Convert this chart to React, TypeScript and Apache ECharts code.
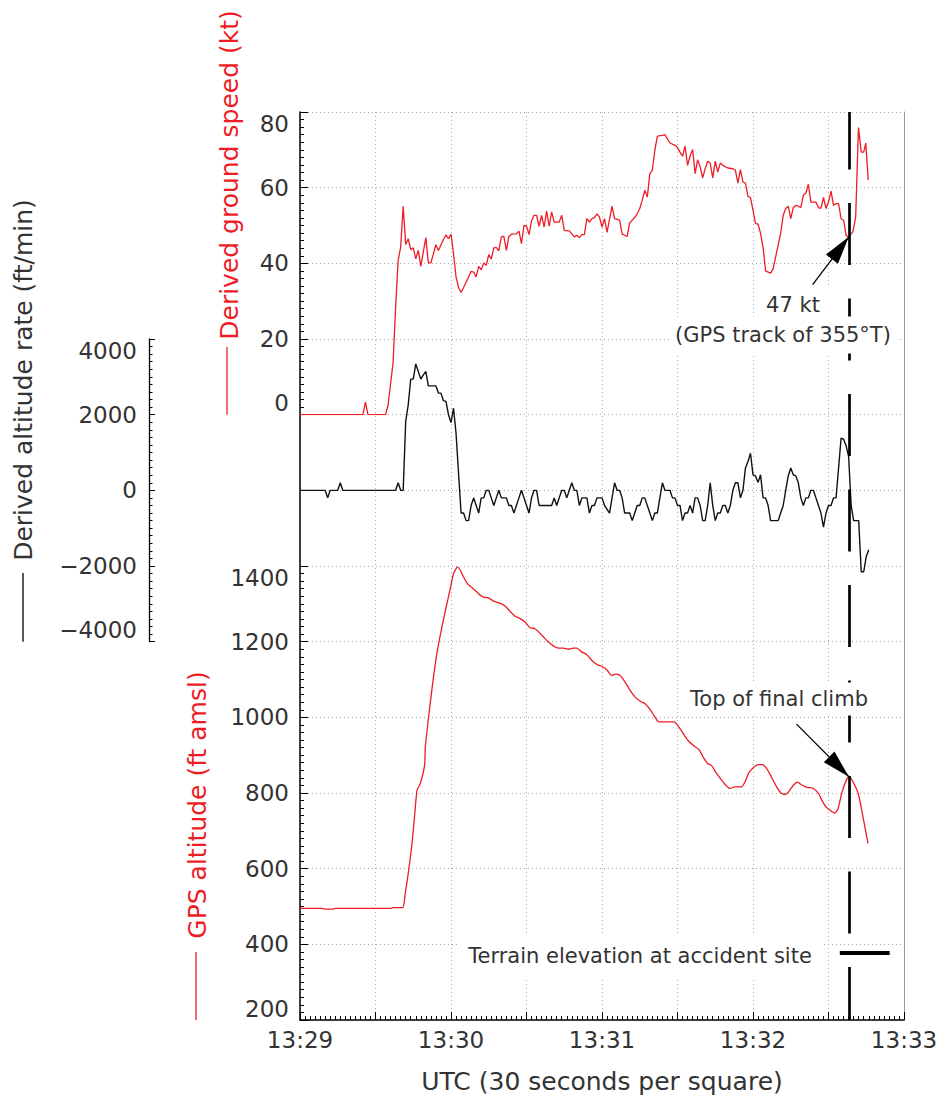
import React, { useEffect, useRef } from 'react';
import * as echarts from 'echarts';

// ---- data (time in seconds after 13:29:00 UTC) ----
const timeLabels = ['13:29', '13:30', '13:31', '13:32', '13:33'];

const groundSpeed: [number, number][] = [
  [0, 0], [25, 0], [26, 3.3], [27, 0], [34, 0], [35, 2.5], [37, 13.9], [38, 28.5], [39, 40.8], [40, 44.3],
  [41, 55.1], [42, 45.0], [43, 46.5], [44, 43.6], [45, 44.1], [46, 41.2], [47, 43.4], [48, 39.2], [49, 43.0],
  [50, 46.8], [51, 40.1], [52, 40.1], [54, 44.9], [55, 43.4], [57, 46.3], [58, 47.5], [59, 46.5], [60, 47.7],
  [61, 42.6], [62, 36.4], [63, 33.6], [64, 32.3], [65, 33.6], [67, 36.4], [68, 37.9], [69, 37.7], [70, 36.4],
  [71, 39.2], [72, 38.3], [73, 40.1], [74, 39.5], [75, 42.3], [76, 41.1], [77, 44.1], [78, 44.2], [79, 43.3],
  [80, 47.0], [81, 47.1], [82, 43.4], [83, 47.1], [84, 47.7], [86, 47.8], [87, 48.5], [88, 45.2], [89, 50.0],
  [90, 49.9], [91, 47.6], [92, 51.2], [93, 52.7], [94, 52.7], [95, 49.8], [96, 52.7], [97, 49.6], [98, 53.8],
  [99, 49.8], [100, 53.6], [101, 50.9], [103, 50.9], [104, 52.7], [105, 48.7], [107, 48.6], [109, 47.0],
  [110, 47.4], [111, 46.8], [112, 47.6], [113, 47.6], [114, 51.8], [115, 50.9], [116, 51.8], [117, 52.1],
  [118, 53.1], [119, 52.2], [120, 49.6], [121, 51.8], [122, 48.2], [124, 55.1], [125, 51.8], [127, 51.4],
  [128, 47.7], [130, 47.1], [131, 50.7], [133, 52.1], [134, 53.1], [135, 54.5], [136, 56.7], [137, 59.3],
  [138, 57.5], [139, 63.7], [140, 64.6], [141, 69.9], [142, 73.6], [144, 73.8], [145, 74.0], [147, 71.8],
  [149, 71.2], [150, 70.6], [151, 69.4], [152, 68.3], [153, 71.0], [154, 65.9], [155, 68.3], [156, 70.1],
  [157, 63.7], [158, 67.4], [159, 65.5], [160, 62.6], [161, 65.0], [162, 67.0], [163, 66.5], [164, 62.6],
  [165, 67.0], [166, 64.1], [167, 66.5], [168, 65.9], [170, 65.2], [172, 65.0], [173, 64.6], [174, 61.2],
  [175, 64.8], [176, 61.5], [177, 61.2], [178, 57.7], [179, 57.4], [180, 54.0], [181, 50.5], [182, 50.4],
  [183, 47.9], [184, 44.3], [185, 38.0], [186, 37.7], [187, 37.4], [188, 38.6], [189, 41.7], [190, 44.8],
  [191, 47.9], [192, 52.7], [193, 54.5], [194, 55.1], [195, 51.8], [196, 54.7], [197, 55.3], [198, 55.1],
  [199, 54.7], [200, 58.0], [201, 58.6], [202, 60.9], [203, 56.2], [205, 56.2], [206, 54.7], [207, 54.5],
  [208, 57.4], [209, 54.5], [210, 56.2], [211, 59.1], [212, 55.3], [213, 55.8], [214, 55.8], [215, 51.8],
  [216, 51.4], [217, 47.4], [218, 47.0], [219.7, 48.3], [220.8, 52.2], [221.9, 75.9], [223, 69.4], [224, 69.4],
  [224.8, 71.8], [225.8, 62.0],
];

const altitudeRate: [number, number][] = [
  [0, 0], [10, 0], [11, -200], [12, 0], [15, 0], [16, 200], [17, 0], [38, 0], [39, 200], [40, 0], [41, 0],
  [42, 1820], [43, 2260], [44, 2940], [45, 2940], [46, 3340], [47, 3140], [48, 2940], [49, 3050], [50, 3140],
  [51, 2760], [54, 2760], [55, 2570], [56, 2570], [57, 2370], [58, 2350], [59, 2000], [60, 1790], [61, 2170],
  [62, 1510], [63, 450], [64, -600], [65, -600], [66, -800], [67, -800], [68, -400], [69, -200], [70, -400],
  [71, -600], [72, -200], [73, -200], [74, 0], [75, 0], [76, -200], [77, -400], [78, -200], [79, 0], [80, -200],
  [82, -200], [83, -400], [84, -400], [85, -600], [86, -400], [87, -200], [88, 0], [89, -200], [90, -400],
  [91, -600], [92, -200], [93, 0], [94, 0], [95, -400], [100, -400], [101, -200], [102, -400], [103, -200],
  [104, 0], [105, 0], [106, -200], [107, 0], [108, 200], [109, 0], [110, 0], [111, -400], [112, -200],
  [114, -200], [115, -600], [116, -400], [117, -400], [118, -200], [120, -200], [121, -400], [123, -600],
  [124, -200], [125, 200], [126, 0], [127, 0], [128, -200], [129, -600], [131, -600], [132, -800], [133, -600],
  [134, -400], [135, -400], [136, -200], [137, -200], [138, -400], [139, -600], [140, -800], [141, -600],
  [142, -600], [143, -200], [144, 200], [145, 0], [147, 0], [148, -200], [149, -200], [150, -400], [151, -400],
  [152, -800], [153, -600], [154, -600], [155, -400], [156, -600], [157, -200], [158, -200], [159, -400],
  [160, -800], [161, -800], [162, -400], [163, 200], [164, -400], [165, -800], [166, -600], [167, -600],
  [168, -400], [169, -400], [170, -600], [171, -400], [172, 0], [173, 200], [174, 200], [175, -200], [176, 0],
  [177, 590], [178, 760], [179, 980], [180, 410], [181, 380], [182, 210], [183, 410], [184, -200], [185, -200],
  [186, -400], [187, -800], [190, -800], [191, -600], [192, -400], [193, 0], [194, 380], [195, 590], [196, 410],
  [197, 380], [198, 200], [199, -200], [200, -400], [201, -200], [202, -200], [203, 0], [204, 0], [205, -200],
  [206, -400], [207, -600], [208, -970], [209, -600], [210, -400], [211, -400], [212, -200], [213, -200],
  [214, 590], [215, 1380], [216, 1350], [217, 1180], [218, 890], [219, -400], [220, -800], [222, -800],
  [223, -2150], [224, -2150], [225, -1750], [226, -1570],
];

const gpsAltitude: [number, number][] = [
  [0, 495], [9, 495], [10, 493], [13, 493], [14, 495], [36, 495], [37, 497], [40.8, 497], [41.8, 534],
  [43.2, 596], [44.5, 666], [45.5, 737], [46.5, 807], [47.8, 825], [49.5, 873], [49.8, 922], [51.1, 1001],
  [52.7, 1089], [54.4, 1169], [56.4, 1239], [58.4, 1301], [59.7, 1340], [61, 1380], [62.6, 1397], [63.6, 1390],
  [65, 1371], [66.7, 1352], [68.3, 1343], [70.3, 1331], [71.6, 1323], [72.9, 1318], [74.9, 1316], [76.9, 1307],
  [78.9, 1303], [81.5, 1294], [83.5, 1280], [85.5, 1267], [87.5, 1261], [89.4, 1252], [91.4, 1237],
  [93.4, 1234], [96.1, 1217], [98.7, 1199], [100.7, 1189], [102.7, 1183], [104.7, 1183], [106.6, 1180],
  [108.6, 1183], [110, 1183], [111.9, 1173], [113.9, 1166], [116.6, 1146], [118.5, 1138], [119.9, 1135],
  [121.9, 1126], [123.8, 1111], [125.4, 1114], [127.1, 1111], [129.1, 1094], [131.1, 1072], [133.1, 1054],
  [135.1, 1043], [137.1, 1036], [139.1, 1021], [141, 1001], [142.6, 988], [145, 988], [148.6, 988],
  [150.3, 977], [152.3, 957], [154.3, 938], [156.6, 924], [158.5, 915], [160.2, 895], [162, 878], [163.5, 873],
  [165.1, 856], [167.3, 836], [169.1, 821], [170.8, 812], [172.8, 816], [175.4, 816], [176.8, 829],
  [178.3, 853], [180.1, 867], [182.1, 875], [183.7, 875], [185.4, 865], [187.2, 844], [189.4, 816],
  [191.1, 800], [192.8, 796], [194.1, 803], [196.1, 821], [197.7, 829], [199.4, 821], [201.4, 815], [204, 812],
  [206, 799], [207.2, 783], [208.8, 765], [210.5, 755], [212.5, 747], [213.8, 759], [215.4, 803], [217.1, 834],
  [218.2, 844], [220.4, 821], [222, 794], [223.7, 737], [225.7, 667],
];

const accidentTime = 218.1;
const terrainElevation = 377;
const terrainSpan = [214.5, 234.3];
const speedArrow = { from: [203.7, 34.4], to: [218.1, 47] };
const climbArrow = { from: [197.3, 982], to: [218.1, 843] };

// ---- styling ----
const RED = '#ee1c25';
const FONT = 'DejaVu Sans';
const TXT = '#333';
const GRID_LINE = { color: '#a8a8a8', width: 1, type: [1, 3] as number[] };

const tickLabel = { fontFamily: FONT, fontSize: 23, color: TXT };
const minus = (v: number) => (v < 0 ? '\u2212' + Math.abs(v) : String(v));

const arrowPair = (a: { from: number[]; to: number[] }) => [
  { coord: a.from, symbol: 'none', lineStyle: { color: '#000', width: 1.3, type: 'solid' } },
  { coord: a.to, symbol: 'triangle', symbolSize: [15, 28], symbolOffset: [0, 14] },
];

export default function App() {
  const ref = useRef<HTMLDivElement>(null);
  useEffect(() => {
    if (!ref.current) return;
    const chart = echarts.init(ref.current, undefined, { renderer: 'svg' });
    const xHidden = (i: number) => ({ gridIndex: i, type: 'value', min: 0, max: 240, show: false });
    const ySub = (i: number, min: number, max: number, interval: number, extra: any = {}) => ({
      gridIndex: i,
      type: 'value',
      min,
      max,
      interval,
      axisLine: { show: false, onZero: false },
      axisTick: { show: true, inside: true, length: 8, lineStyle: { color: '#000', width: 1 } },
      minorTick: { show: true, splitNumber: 10, length: 4, lineStyle: { color: '#000', width: 1 } },
      splitLine: { show: false },
      axisLabel: {
        ...tickLabel,
        margin: 11,
        formatter: minus,
        verticalAlignMinLabel: 'bottom',
        verticalAlignMaxLabel: 'top',
      },
      ...extra,
    });
    const option: any = {
      animation: false,
      backgroundColor: '#fff',
      grid: [
        { left: 300, top: 112, width: 604, height: 908 },
        { left: 300, top: 112, width: 604, height: 302.67 },
        { left: 300, top: 339, width: 604, height: 302.67 },
        { left: 300, top: 566, width: 604, height: 454 },
      ],
      xAxis: [
        {
          gridIndex: 0,
          type: 'value',
          min: 0,
          max: 240,
          interval: 30,
          axisLine: { show: true, onZero: false, lineStyle: { color: '#000', width: 1.5 } },
          axisTick: { show: true, inside: true, length: 8, lineStyle: { color: '#000' } },
          minorTick: { show: true, splitNumber: 15, length: 4, lineStyle: { color: '#000' } },
          splitLine: { show: true, lineStyle: GRID_LINE },
          axisLabel: {
            ...tickLabel,
            margin: 8,
            formatter: (v: number) => (v % 60 === 0 ? timeLabels[v / 60] : ''),
          },
          name: 'UTC (30 seconds per square)',
          nameLocation: 'middle',
          nameGap: 49,
          nameTextStyle: { fontFamily: FONT, fontSize: 25, color: TXT },
        },
        xHidden(1),
        xHidden(2),
        xHidden(3),
      ],
      yAxis: [
        {
          gridIndex: 0,
          type: 'value',
          min: 0,
          max: 12,
          interval: 1,
          axisLine: { show: true, onZero: false, lineStyle: { color: '#000', width: 1.5 } },
          axisTick: { show: false },
          axisLabel: { show: false },
          splitLine: { show: true, lineStyle: GRID_LINE },
        },
        {
          gridIndex: 0,
          type: 'value',
          position: 'right',
          min: 0,
          max: 12,
          axisLine: { show: true, onZero: false, lineStyle: { color: '#999', width: 1 } },
          axisTick: { show: false },
          axisLabel: { show: false },
          splitLine: { show: false },
        },
        ySub(1, 0, 80, 20),
        ySub(2, -4000, 4000, 2000, {
          offset: 151,
          axisLine: { show: true, onZero: false, lineStyle: { color: '#000', width: 1.3 } },
          axisTick: { show: true, inside: true, length: 6, lineStyle: { color: '#000', width: 1 } },
          minorTick: { show: true, splitNumber: 10, length: 3.5, lineStyle: { color: '#000', width: 1 } },
          axisLabel: {
            ...tickLabel,
            margin: 12,
            formatter: minus,
            verticalAlignMinLabel: 'bottom',
            verticalAlignMaxLabel: 'top',
          },
        }),
        ySub(3, 200, 1400, 200),
      ],
      series: [
        {
          type: 'line',
          xAxisIndex: 0,
          yAxisIndex: 0,
          data: [],
          z: 3,
          markLine: {
            silent: true,
            symbol: ['none', 'none'],
            label: { show: false },
            lineStyle: { color: '#000', width: 2.7, type: [62, 33.5], dashOffset: 9 },
            data: [{ xAxis: accidentTime }],
          },
        },
        {
          type: 'line',
          xAxisIndex: 1,
          yAxisIndex: 2,
          data: groundSpeed,
          showSymbol: false,
          symbol: 'none',
          lineStyle: { color: RED, width: 1.3 },
          itemStyle: { color: RED },
          z: 4,
        },
        {
          type: 'line',
          xAxisIndex: 2,
          yAxisIndex: 3,
          data: altitudeRate,
          showSymbol: false,
          symbol: 'none',
          lineStyle: { color: '#111', width: 1.4 },
          itemStyle: { color: '#111' },
          z: 4,
        },
        {
          type: 'line',
          xAxisIndex: 3,
          yAxisIndex: 4,
          data: gpsAltitude,
          showSymbol: false,
          symbol: 'none',
          smooth: 0.2,
          lineStyle: { color: RED, width: 1.3 },
          itemStyle: { color: RED },
          z: 4,
          markLine: {
            silent: true,
            symbol: ['none', 'none'],
            label: { show: false },
            data: [
              [
                { coord: [terrainSpan[0], terrainElevation], lineStyle: { color: '#000', width: 4, type: 'solid' } },
                { coord: [terrainSpan[1], terrainElevation] },
              ],
            ],
          },
        },
        {
          type: 'line',
          xAxisIndex: 1,
          yAxisIndex: 2,
          data: [],
          z: 200,
          markLine: {
            silent: true,
            symbol: ['none', 'none'],
            label: { show: false },
            itemStyle: { color: '#000' },
            lineStyle: { color: '#000', width: 1.3, type: 'solid' },
            data: [arrowPair(speedArrow)],
          },
        },
        {
          type: 'line',
          xAxisIndex: 3,
          yAxisIndex: 4,
          data: [],
          z: 200,
          markLine: {
            silent: true,
            symbol: ['none', 'none'],
            label: { show: false },
            itemStyle: { color: '#000' },
            lineStyle: { color: '#000', width: 1.3, type: 'solid' },
            data: [arrowPair(climbArrow)],
          },
        },
      ],
      graphic: {
        elements: [
          {
            type: 'text', x: 229, y: 175, rotation: Math.PI / 2, z: 100,
            style: { text: 'Derived ground speed (kt)', fill: RED, fontFamily: FONT, fontSize: 25, align: 'center', verticalAlign: 'middle' },
          },
          { type: 'line', z: 100, shape: { x1: 227, y1: 347, x2: 227, y2: 414.7 }, style: { stroke: RED, lineWidth: 1.3 } },
          {
            type: 'text', x: 23, y: 380, rotation: Math.PI / 2, z: 100,
            style: { text: 'Derived altitude rate (ft/min)', fill: TXT, fontFamily: FONT, fontSize: 25, align: 'center', verticalAlign: 'middle' },
          },
          { type: 'line', z: 100, shape: { x1: 23, y1: 573, x2: 23, y2: 641.7 }, style: { stroke: '#000', lineWidth: 1.3 } },
          {
            type: 'text', x: 197, y: 805, rotation: Math.PI / 2, z: 100,
            style: { text: 'GPS altitude (ft amsl)', fill: RED, fontFamily: FONT, fontSize: 25, align: 'center', verticalAlign: 'middle' },
          },
          { type: 'line', z: 100, shape: { x1: 196, y1: 952, x2: 196, y2: 1020 }, style: { stroke: RED, lineWidth: 1.3 } },
          {
            type: 'text', x: 793, y: 305, z: 100,
            style: { text: '47 kt', fill: TXT, fontFamily: FONT, fontSize: 21, align: 'center', verticalAlign: 'middle', backgroundColor: '#fff', padding: [9, 10, 4, 10] },
          },
          {
            type: 'text', x: 783, y: 335, z: 100,
            style: { text: '(GPS track of 355\u00B0T)', fill: TXT, fontFamily: FONT, fontSize: 21, align: 'center', verticalAlign: 'middle', backgroundColor: '#fff', padding: [8, 6] },
          },
          {
            type: 'text', x: 779, y: 699, z: 100,
            style: { text: 'Top of final climb', fill: TXT, fontFamily: FONT, fontSize: 21, align: 'center', verticalAlign: 'middle', backgroundColor: '#fff', padding: [6, 9] },
          },
          {
            type: 'text', x: 640, y: 956, z: 100,
            style: { text: 'Terrain elevation at accident site', fill: TXT, fontFamily: FONT, fontSize: 21, align: 'center', verticalAlign: 'middle', backgroundColor: '#fff', padding: [12, 10] },
          },
        ],
      },
    };
    chart.setOption(option);
    return () => chart.dispose();
  }, []);
  return (
    <div
      ref={ref}
      style={{ position: 'absolute', left: 0, top: 0, width: 942, height: 1106, background: '#fff' }}
    />
  );
}
